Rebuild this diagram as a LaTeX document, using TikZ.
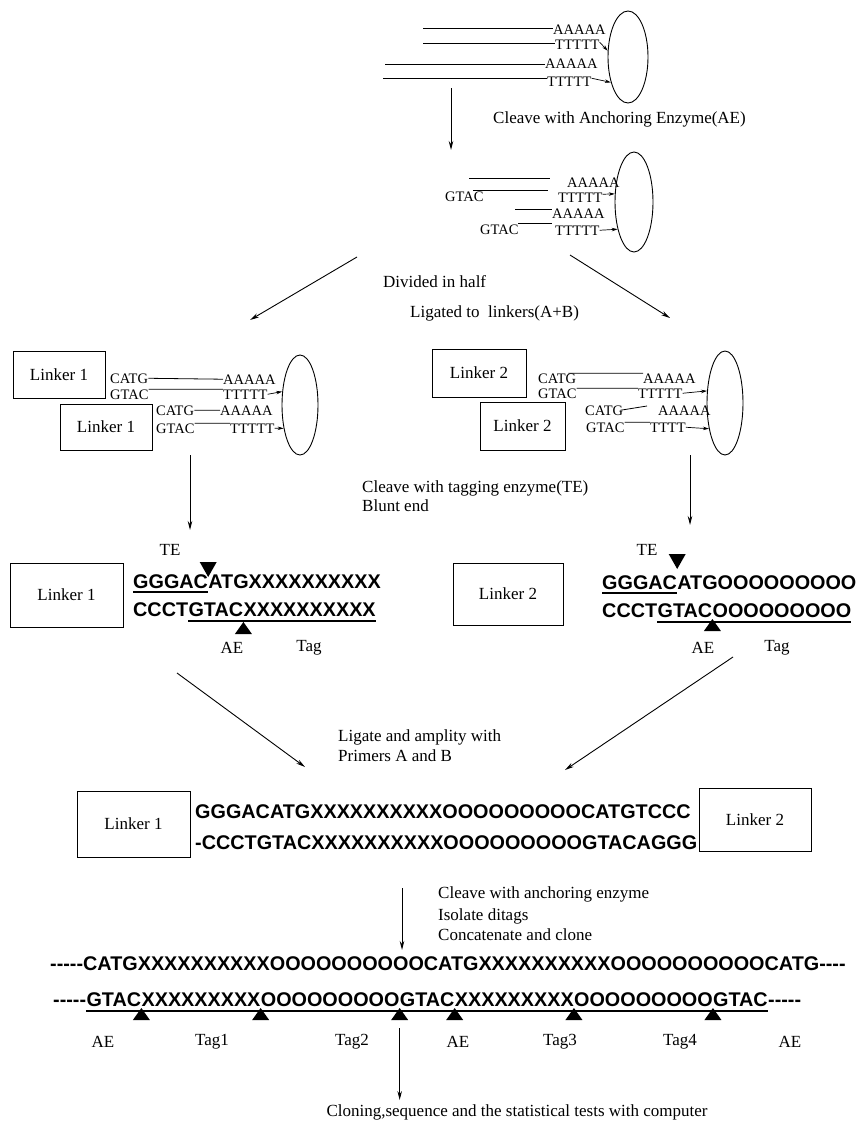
\documentclass[tikz,border=0pt]{standalone}
\usepackage{fontspec}
\setmainfont{Liberation Serif}
\newfontfamily\seqfont{Liberation Sans}
\usetikzlibrary{arrows.meta,shapes.geometric,calc}
\newcommand\mydash{-\kern0pt}
\newcommand\tridown[1]{\fill (#1) -- ++(-8.5,-15) -- ++(17,0) -- cycle;}
\newcommand\triup[1]{\fill (#1) -- ++(-8.5,12) -- ++(17,0) -- cycle;}
\tikzset{
 lbl/.style={inner sep=0pt, font=\fontsize{17}{20}\selectfont},
 lblw/.style={lbl, anchor=base west},
 nt/.style={inner sep=0pt, anchor=base west, font=\fontsize{14.5}{16}\selectfont},
 sq/.style={inner sep=0pt, anchor=base west, font=\seqfont\bfseries\fontsize{19.8}{22}\selectfont},
 linkerbox/.style={draw, line width=0.9pt, inner sep=0pt, font=\fontsize{17}{20}\selectfont},
 cell/.style={draw, ellipse, line width=0.9pt, inner sep=0pt},
 strand/.style={line width=0.8pt},
 flow/.style={line width=0.9pt, -{Stealth[length=9pt,width=4.5pt]}},
 tipa/.style={line width=0.7pt, -{Stealth[length=6pt,width=3.5pt]}},
 ul/.style={line width=1.5pt},
}
\begin{document}
\begin{tikzpicture}[x=1pt,y=-1pt]
\useasboundingbox (0,0) rectangle (867,1124);

% ---------- stage 1 ----------
\node[cell, minimum width=40pt, minimum height=92pt] (e1) at (628,57) {};
\node[nt] (s1a1) at (553,35) {AAAAA};
\node[nt] (s1t1) at (555,50) {TTTTT};
\node[nt] (s1a2) at (545,69) {AAAAA};
\node[nt] (s1t2) at (547,86) {TTTTT};
\coordinate (f1) at (423,28); \coordinate (f2) at (423,43);
\coordinate (f3) at (385,64); \coordinate (f4) at (383,78);
\draw[strand] (f1) -- (f1 -| s1a1.west);
\draw[strand] (f2) -- (f2 -| s1t1.west);
\draw[strand] (f3) -- (f3 -| s1a2.west);
\draw[strand] (f4) -- (f4 -| s1t2.west);
\draw[tipa] ([yshift=3pt]s1t1.east) -- (e1.163);
\draw[tipa] ([yshift=3pt]s1t2.east) -- (e1.236);
\node[lblw] (cleave1) at (493,123) {Cleave with Anchoring Enzyme(AE)};
\coordinate (a1s) at (451,88); \coordinate (a1e) at (451,150);
\draw[flow] (a1s) -- (a1e);

% ---------- stage 2 ----------
\node[cell, minimum width=38pt, minimum height=100pt] (e2) at (634,202) {};
\node[nt] (s2a1) at (567,187) {AAAAA};
\node[nt] (s2g1) at (445,201) {GTAC};
\node[nt] (s2t1) at (558,202) {TTTTT};
\node[nt] (s2a2) at (552,218) {AAAAA};
\node[nt] (s2g2) at (480,234) {GTAC};
\node[nt] (s2t2) at (555,235) {TTTTT};
\draw[strand] (469,178) -- (550,178);
\draw[strand] (473,190) -- (548,190);
\draw[strand] (515,209) -- (552,209);
\draw[strand] (518,223) -- (552,223);
\draw[tipa] ([yshift=3pt]s2t1.east) -- (e2.157);
\draw[tipa] ([yshift=0pt]s2t2.east) -- (e2.239);

\coordinate (d1s) at (357,257); \coordinate (d1e) at (250,320);
\coordinate (d2s) at (570,255); \coordinate (d2e) at (670,318);
\draw[flow] (d1s) -- (d1e);
\draw[flow] (d2s) -- (d2e);
\node[lblw] (div) at (383,287) {Divided in half};
\node[lblw] (lig) at (410,317) {Ligated to\ \ linkers(A+B)};

% ---------- stage 3 left ----------
\node[linkerbox, minimum width=92pt, minimum height=47pt] (b1) at (59,374.5) {Linker 1};
\node[linkerbox, minimum width=92pt, minimum height=46pt] (b2) at (106,427) {Linker 1};
\node[cell, minimum width=36pt, minimum height=100pt] (e3) at (300,405) {};
\node[nt] (L1c1) at (110,383) {CATG};
\node[nt] (L1a1) at (223,384) {AAAAA};
\node[nt] (L1g1) at (110,399) {GTAC};
\node[nt] (L1t1) at (223,399) {TTTTT};
\node[nt] (L1c2) at (156,415) {CATG};
\node[nt] (L1a2) at (220,415) {AAAAA};
\node[nt] (L1g2) at (156,433) {GTAC};
\node[nt] (L1t2) at (230,433) {TTTTT};
\draw[strand] (L1c1.east) -- (L1a1.west);
\draw[strand] (L1g1.north east) -- (L1t1.north west);
\draw[strand] (L1c2.east) -- (L1a2.west);
\draw[strand] (L1g2.north east) -- (L1t2.north west);
\draw[tipa] (L1t1.east) -- (e3.143);
\draw[tipa] (L1t2.east) -- (e3.235);

% ---------- stage 3 right ----------
\node[linkerbox, minimum width=94pt, minimum height=48pt] (b3) at (479,373) {Linker 2};
\node[linkerbox, minimum width=85pt, minimum height=48pt] (b4) at (522.5,426) {Linker 2};
\node[cell, minimum width=36pt, minimum height=104pt] (e4) at (725,403) {};
\node[nt] (L2c1) at (538,383) {CATG};
\node[nt] (L2a1) at (643,383) {AAAAA};
\node[nt] (L2g1) at (538,398) {GTAC};
\node[nt] (L2t1) at (638,398) {TTTTT};
\node[nt] (L2c2) at (585,415) {CATG};
\node[nt] (L2a2) at (658,415) {AAAAA};
\node[nt] (L2g2) at (586,432) {GTAC};
\node[nt] (L2t2) at (650,432) {TTTT};
\draw[strand] ([xshift=-8pt]L2c1.north east) -- (L2a1.north west);
\draw[strand] (L2g1.north east) -- (L2t1.north west);
\coordinate (L2f) at (647,406);
\draw[strand] ([xshift=-3pt]L2c2.east) -- (L2f);
\draw[strand] (L2g2.north east) -- (L2t2.north west);
\draw[tipa] (L2t1.east) -- (e4.146);
\draw[tipa] (L2t2.east) -- (e4.238);

\coordinate (v1s) at (190,455); \coordinate (v1e) at (190,530);
\coordinate (v2s) at (690,455); \coordinate (v2e) at (690,525);
\draw[flow] (v1s) -- (v1e);
\draw[flow] (v2s) -- (v2e);
\node[lblw] (tag1) at (362,492) {Cleave with tagging enzyme(TE)};
\node[lblw] (tag2) at (362,511) {Blunt end};

% ---------- stage 4 left ----------
\node[linkerbox, minimum width=113pt, minimum height=64pt] (b5) at (66.5,595) {Linker 1};
\node[sq] (La) at (133,588) {GGGAC};
\node[sq] (Lb) at (La.base east) {ATGXXXXXXXXXX};
\draw[ul] ([yshift=-4pt]La.base west) -- ([yshift=-4pt]La.base east);
\tridown{$(La.base east)+(0,-11)$}
\node[sq] (Lc) at (133,616) {CCCT};
\node[sq] (Ld) at (Lc.base east) {GTAC};
\node[sq] (Le) at (Ld.base east) {XXXXXXXXXX};
\draw[ul] ([yshift=-5pt]Ld.base west) -- ([yshift=-5pt]Le.base east);
\triup{$(Ld.base east)+(0,6)$}
\node[lbl] (LTE) at (170,550) {TE};
\node[lbl] (LAE) at (232,648) {AE};
\node[lbl] (LTag) at (309,648) {Tag};

% ---------- stage 4 right ----------
\node[linkerbox, minimum width=110pt, minimum height=62pt] (b6) at (508,594) {Linker 2};
\node[sq] (Ra) at (602,589) {GGGAC};
\node[sq] (Rb) at (Ra.base east) {ATGOOOOOOOOO};
\draw[ul] ([yshift=-4pt]Ra.base west) -- ([yshift=-4pt]Ra.base east);
\tridown{$(Ra.base east)+(0,-20)$}
\node[sq] (Rc) at (602,617) {CCCT};
\node[sq] (Rd) at (Rc.base east) {GTAC};
\node[sq] (Re) at (Rd.base east) {OOOOOOOOO};
\draw[ul] ([yshift=-5pt]Rd.base west) -- ([yshift=-5pt]Re.base east);
\triup{$(Rd.base east)+(0,2)$}
\node[lbl] (RTE) at (647,550) {TE};
\node[lbl] (RAE) at (703,648) {AE};
\node[lbl] (RTag) at (777,648) {Tag};

\coordinate (g1s) at (177,673); \coordinate (g1e) at (305,767);
\coordinate (g2s) at (733,657); \coordinate (g2e) at (565,770);
\draw[flow] (g1s) -- (g1e);
\draw[flow] (g2s) -- (g2e);
\node[lblw] (amp1) at (338,741) {Ligate and amplity with};
\node[lblw] (amp2) at (338,761) {Primers A and B};

% ---------- stage 5 ----------
\node[linkerbox, minimum width=113pt, minimum height=66pt] (b7) at (133.5,824) {Linker 1};
\node[linkerbox, minimum width=112pt, minimum height=63pt] (b8) at (755,819.5) {Linker 2};
\node[sq] (P1) at (195,818) {GGGACATGXXXXXXXXXXOOOOOOOOOCATGTCCC};
\node[sq] (P2) at (195,849) {-CCCTGTACXXXXXXXXXXOOOOOOOOOGTACAGGG};

\coordinate (h1s) at (402,888); \coordinate (h1e) at (402,950);
\draw[flow] (h1s) -- (h1e);
\node[lblw] (cc1) at (438,898) {Cleave with anchoring enzyme};
\node[lblw] (cc2) at (438,920) {Isolate ditags};
\node[lblw] (cc3) at (438,940) {Concatenate and clone};

% ---------- stage 6 ----------
\node[sq] (C1) at (50,970) {\mydash\mydash\mydash\mydash\mydash CATGXXXXXXXXXXOOOOOOOOOOCATGXXXXXXXXXXOOOOOOOOOOCATG\mydash\mydash\mydash\mydash};
\node[sq] (d0) at (53,1006) {\mydash\mydash\mydash\mydash\mydash};
\node[sq] (d1) at (d0.base east) {GTAC};
\node[sq] (d2) at (d1.base east) {XXXXXXXXX};
\node[sq] (d3) at (d2.base east) {OOOOOOOOO};
\node[sq] (d4) at (d3.base east) {GTAC};
\node[sq] (d5) at (d4.base east) {XXXXXXXXX};
\node[sq] (d6) at (d5.base east) {OOOOOOOOO};
\node[sq] (d7) at (d6.base east) {GTAC};
\node[sq] (d8) at (d7.base east) {\mydash\mydash\mydash\mydash\mydash};
\draw[ul] ([yshift=-5pt]d1.base west) -- ([yshift=-5pt]d7.base east);
\foreach \n in {d1,d2,d3,d4,d5,d6} {\triup{$(\n.base east)+(0,2)$}}
\node[lbl] (m1) at (103,1042) {AE};
\node[lbl] (m2) at (212,1042) {Tag1};
\node[lbl] (m3) at (352,1042) {Tag2};
\node[lbl] (m4) at (458,1042) {AE};
\node[lbl] (m5) at (560,1042) {Tag3};
\node[lbl] (m6) at (680,1042) {Tag4};
\node[lbl] (m7) at (790,1042) {AE};

\node[lbl] (fin) at (517,1112) {Cloning,sequence and the statistical tests with computer};
\coordinate (k1) at ($(d3.base east)+(0,22)$);
\draw[flow, shorten >=4pt] (k1) -- (k1 |- fin.north);
\end{tikzpicture}
\end{document}
